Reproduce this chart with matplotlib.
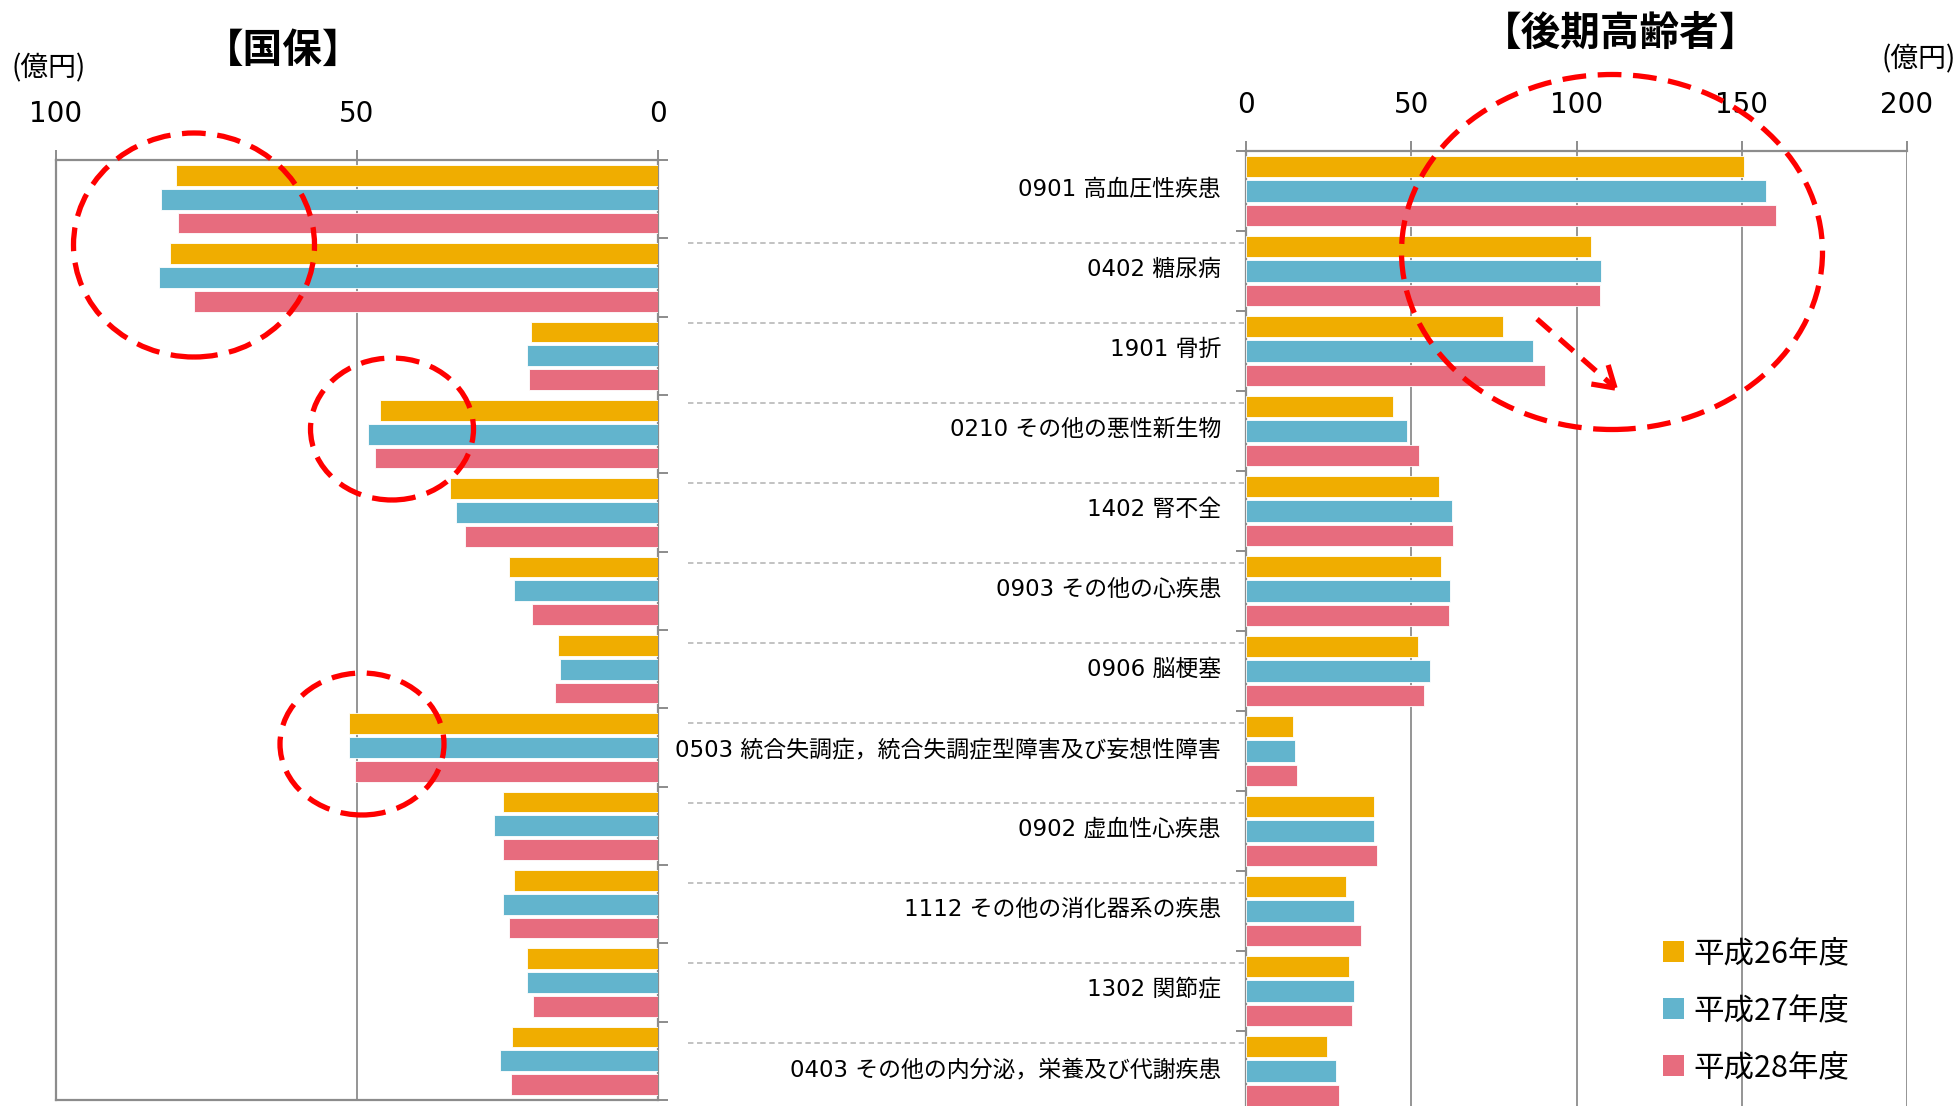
import matplotlib
matplotlib.use('Agg')
import matplotlib.pyplot as plt
from matplotlib.patches import Ellipse, Patch
from matplotlib.lines import Line2D
import matplotlib.transforms as mtransforms
import numpy as np

plt.rcParams['font.family'] = ['Noto Sans CJK JP', 'DejaVu Sans']
MIXED = ['DejaVu Sans', 'Noto Sans CJK JP']

# ---------------- data ----------------
categories = [
    "0901 高血圧性疾患",
    "0402 糖尿病",
    "1901 骨折",
    "0210 その他の悪性新生物",
    "1402 腎不全",
    "0903 その他の心疾患",
    "0906 脳梗塞",
    "0503 統合失調症，統合失調症型障害及び妄想性障害",
    "0902 虚血性心疾患",
    "1112 その他の消化器系の疾患",
    "1302 関節症",
    "0403 その他の内分泌，栄養及び代謝疾患",
]
series_names = ["平成26年度", "平成27年度", "平成28年度"]

kokuho_h26 = [80.0, 81.0, 21.1, 46.2, 34.5, 24.8, 16.6, 51.3, 25.7, 24.0, 21.7, 24.2]
kokuho_h27 = [82.5, 82.9, 21.7, 48.1, 33.5, 24.0, 16.2, 51.4, 27.2, 25.7, 21.8, 26.3]
kokuho_h28 = [79.7, 77.1, 21.4, 47.0, 32.0, 21.0, 17.1, 50.4, 25.8, 24.8, 20.8, 24.5]

kouki_h26 = [150.7, 104.5, 77.7, 44.4, 58.5, 59.1, 51.9, 14.1, 38.6, 30.4, 31.1, 24.5]
kouki_h27 = [157.3, 107.3, 86.9, 48.8, 62.3, 61.7, 55.6, 14.8, 38.7, 32.6, 32.8, 27.1]
kouki_h28 = [160.3, 107.2, 90.6, 52.2, 62.6, 61.4, 54.0, 15.5, 39.6, 34.9, 32.0, 28.0]

left_ticks = [100, 50, 0]
right_ticks = [0, 50, 100, 150, 200]

colors = ["#F0AD00", "#62B4CD", "#E76C7E"]
grid_c = "#8C8C8C"

# ---------------- figure ----------------
W, H = 1959, 1106
fig = plt.figure(figsize=(W / 100, H / 100), dpi=100)
fig.patch.set_facecolor("white")


def fx(x):
    return x / W


def fy(y):
    return 1 - y / H


axL = fig.add_axes([fx(56), fy(1100), (658 - 56) / W, (1100 - 160) / H])
axR = fig.add_axes([fx(1246), fy(1111), (1907 - 1246) / W, (1111 - 151) / H])

n = len(categories)
centers = np.arange(n) + 0.5
bar_h = 0.265
step = 0.305
offsets = [-step, 0, step]

for ax, data in ((axL, [kokuho_h26, kokuho_h27, kokuho_h28]),
                 (axR, [kouki_h26, kouki_h27, kouki_h28])):
    for vals, off, c, name in zip(data, offsets, colors, series_names):
        ax.barh(centers + off, vals, height=bar_h, color=c, edgecolor="white",
                linewidth=0.6, label=name, zorder=3)
    ax.set_ylim(n, 0)
    ax.set_yticks(np.arange(n + 1))
    ax.set_yticklabels([])
    ax.xaxis.tick_top()
    ax.tick_params(axis="x", which="major", direction="out", length=7.5,
                   width=1.4, color=grid_c, labelsize=20, pad=15.5)
    ax.tick_params(axis="y", which="major", direction="out", length=7,
                   width=1.4, color=grid_c)
    ax.grid(axis="x", color=grid_c, linewidth=1.3, zorder=0)
    for s in ax.spines.values():
        s.set_color(grid_c)
        s.set_linewidth(1.6)

# left (国保): inverted x
axL.set_xlim(100, 0)
axL.set_xticks(left_ticks)
axL.set_xticklabels([str(t) for t in left_ticks], family=MIXED)
axL.yaxis.tick_right()
axL.tick_params(axis="y", which="both", left=False, right=True)

# right (後期高齢者)
axR.set_xlim(0, 200)
axR.set_xticks(right_ticks)
axR.set_xticklabels([str(t) for t in right_ticks], family=MIXED)
axR.spines["right"].set_visible(False)
axR.spines["bottom"].set_visible(False)
axR.set_yticks(centers - 0.05, minor=True)
axR.set_yticklabels(categories, minor=True, fontsize=16.5, family=MIXED)
axR.tick_params(axis="y", which="minor", length=0, pad=18)

# dashed separators in label area
sep_tr = mtransforms.blended_transform_factory(fig.transFigure, axR.transData) + \
    mtransforms.ScaledTranslation(0, -12 / 100, fig.dpi_scale_trans)
for i in range(1, n):
    fig.add_artist(Line2D([fx(688), fx(1244)], [i, i], transform=sep_tr,
                          color="#BDBDBD", linewidth=1.3,
                          linestyle=(0, (3, 2))))

# titles and units
fig.text(fx(283), fy(50), "【国保】", fontsize=28.5, fontweight="bold",
         ha="center", va="center")
fig.text(fx(1621), fy(33), "【後期高齢者】", fontsize=28.5, fontweight="bold",
         ha="center", va="center")
fig.text(fx(49), fy(68), "(億円)", fontsize=20, ha="center", va="center")
fig.text(fx(1881), fy(59), "(億円)", fontsize=20, ha="left", va="center")

# legend
handles = [Patch(facecolor=c, edgecolor="none") for c in colors]
fig.legend(handles, series_names, loc="upper left",
           bbox_to_anchor=(fx(1663), fy(938)), frameon=False, fontsize=22,
           handlelength=0.7, handleheight=0.7, handletextpad=0.3,
           labelspacing=0.85, borderpad=0, borderaxespad=0)

# red dashed annotation ellipses
ell_style = dict(fill=False, edgecolor="#FF0000", linewidth=3.8,
                 linestyle=(0, (4.5, 2.2)), transform=fig.transFigure, zorder=10)
for (cx, cy, w, h) in [(194, 245, 241, 224), (392, 429, 163, 142),
                       (362, 744, 164, 142), (1612, 252, 421, 355)]:
    fig.add_artist(Ellipse((fx(cx), fy(cy)), w / W, h / H, **ell_style))

# dashed arrow
x0, y0, x1, y1 = 1537, 319, 1615, 388
fig.add_artist(Line2D([fx(x0), fx(x1 - 3)], [fy(y0), fy(y1 - 3)],
                      transform=fig.transFigure, color="#FF0000", linewidth=3.8,
                      linestyle=(0, (3.5, 2.2)), zorder=10))
d = np.array([x1 - x0, y1 - y0], dtype=float)
d /= np.linalg.norm(d)
for ang in (np.deg2rad(32), np.deg2rad(-32)):
    rot = np.array([[np.cos(ang), -np.sin(ang)], [np.sin(ang), np.cos(ang)]])
    p = np.array([x1, y1]) - 24 * rot.dot(d)
    fig.add_artist(Line2D([fx(p[0]), fx(x1)], [fy(p[1]), fy(y1)],
                          transform=fig.transFigure, color="#FF0000",
                          linewidth=3.8, solid_capstyle="butt", zorder=10))

fig.savefig("out.png", dpi=100)
